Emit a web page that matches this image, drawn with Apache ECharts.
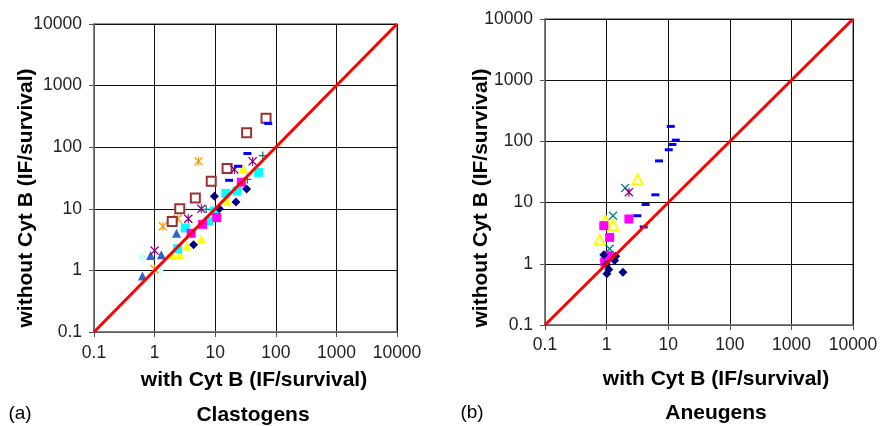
<!DOCTYPE html>
<html>
<head>
<meta charset="utf-8">
<script src="https://cdn.jsdelivr.net/npm/echarts@6/dist/echarts.min.js"></script>
<style>
  html, body { margin: 0; padding: 0; background: #fff; }
  #chart { width: 886px; height: 426px; }
</style>
</head>
<body>
<div id="chart"></div>
<script>
// (a) Clastogens: [with Cyt B, without Cyt B]
var clastNavy = [[33, 21], [22, 12.9], [11.7, 10], [4.4, 2.6], [9.7, 16]];
var clastMagenta = [[27, 27], [10.6, 7.2], [6.2, 5.6], [4.0, 4.0]];
var clastYellow = [[29, 45], [16, 13.3], [5.9, 3.2], [3.4, 2.5], [2.6, 1.8], [2.0, 1.75]];
var clastCyan = [[52, 39], [23, 19.4], [15, 17.8], [9.7, 9.2], [7.8, 6.3], [3.2, 4.9], [2.4, 2.25]];
var clastPurple = [[41.5, 59], [20.7, 43.6], [5.9, 10], [3.6, 6.9], [1.0, 2.1]];
var clastBrown = [[69, 295], [33, 172], [15.7, 45], [8.6, 28], [4.7, 15], [2.6, 10], [1.95, 6.2]];
var clastTeal = [[61, 73], [34, 30], [7.1, 9.8]];
var clastBlue = [[75, 243], [34, 79], [24, 49], [17, 29]];
var clastLight = [[0.63, 1.6], [1.2, 1.0]];
var clastOrange = [[5.3, 59], [2.4, 6.9], [1.37, 5.2], [1.0, 1.04]];
var clastSteel = [[2.3, 4.0], [0.86, 1.75], [0.63, 0.81], [1.29, 1.8]];

// (b) Aneugens
var aneuBlue = [[11, 176], [13.3, 105], [11.7, 89], [10.2, 73], [7.1, 48], [6.2, 13.4], [4.3, 9.3], [3.15, 6.1], [4.0, 4.0]];
var aneuYellow = [[3.2, 24], [0.77, 2.46], [0.96, 5.1], [1.27, 4.3]];
var aneuTeal = [[2.0, 17.4], [1.27, 6.1], [1.12, 1.76]];
var aneuPurple = [[2.3, 14.8]];
var aneuMagenta = [[2.3, 5.4], [1.12, 2.7], [0.9, 4.2], [1.12, 1.36], [0.93, 1.07]];
var aneuNavy = [[0.9, 1.4], [1.4, 1.33], [1.35, 1.13], [1.09, 0.81], [1.01, 0.69], [1.84, 0.73], [1.0, 0.97]];

var diagonal = [[0.1, 0.1], [10000, 10000]];

var xShape = 'path://M0,1L1,0L5,4L9,0L10,1L6,5L10,9L9,10L5,6L1,10L0,9L4,5Z';
var starShape = 'path://M0,1L1,0L5,4L9,0L10,1L6,5L10,9L9,10L5,6L1,10L0,9L4,5Z M4.4,0L5.6,0L5.6,10L4.4,10Z';
var plusShape = 'path://M4.2,0h1.6v4.2h4.2v1.6h-4.2v4.2h-1.6v-4.2h-4.2v-1.6h4.2Z';

var font = 'Liberation Sans, Arial, Helvetica, sans-serif';
var xTitle = 'with Cyt B (IF/survival)';
var yTitle = 'without Cyt B (IF/survival)';

function scatter(idx, data, symbol, color, size) {
  return {
    type: 'scatter', xAxisIndex: idx, yAxisIndex: idx,
    data: data, symbol: symbol, symbolSize: size || 8,
    itemStyle: { color: color, opacity: 1 },
    z: 2
  };
}

function axis(idx, margin) {
  return {
    type: 'log', logBase: 10, min: 0.1, max: 10000, gridIndex: idx,
    axisLine: { show: true, lineStyle: { color: '#777', width: 1.5 } },
    axisTick: { show: true, length: 5, lineStyle: { color: '#555' } },
    axisLabel: {
      fontFamily: font, fontSize: 17.5, color: '#222', margin: margin,
      formatter: function (v) { return String(v); }
    },
    splitLine: { show: true, lineStyle: { color: '#111', width: 1 } },
    minorTick: { show: false }
  };
}

function label(text, x, y, size, bold, rotate) {
  return {
    type: 'text', x: x, y: y, rotation: rotate ? Math.PI / 2 : 0,
    style: {
      text: text, font: (bold ? 'bold ' : '') + size + 'px ' + font,
      fill: '#000', align: 'center', verticalAlign: 'middle'
    }
  };
}

var myChart = echarts.init(document.getElementById('chart'));
var option = {
  animation: false,
  backgroundColor: '#fff',
  grid: [
    { left: 94, top: 24, width: 303, height: 308, show: true, borderColor: '#777', borderWidth: 1.5 },
    { left: 545, top: 19, width: 308, height: 306, show: true, borderColor: '#777', borderWidth: 1.5 }
  ],
  xAxis: [axis(0, 12), axis(1, 11)],
  yAxis: [axis(0, 12), axis(1, 12)],
  graphic: [
    label(xTitle, 254, 380, 21, true),
    label(xTitle, 716, 379, 21, true),
    label(yTitle, 26, 198, 21, true, true),
    label(yTitle, 481, 198, 21, true, true),
    label('(a)', 20, 414, 19, false),
    label('(b)', 472, 413, 19, false),
    label('Clastogens', 253, 415, 21, true),
    label('Aneugens', 716, 413, 21, true)
  ],
  series: [
    scatter(0, clastLight, 'circle', '#CCFFFF', 8),
    scatter(0, clastSteel, 'triangle', '#2E64C8', 9),
    scatter(0, clastOrange, starShape, '#FF9900', 9),
    scatter(0, clastBrown, 'emptyRect', '#993333', 9),
    scatter(0, clastPurple, starShape, '#800080', 9),
    scatter(0, clastYellow, 'triangle', '#FFFF00', 9),
    scatter(0, clastCyan, 'rect', '#00FFFF', 9),
    scatter(0, clastMagenta, 'rect', '#FF00FF', 9),
    scatter(0, clastNavy, 'diamond', '#000080', 9),
    scatter(0, clastTeal, plusShape, '#008080', 8),
    scatter(0, clastBlue, 'rect', '#0000FF', [8, 3]),
    scatter(1, aneuBlue, 'rect', '#0000FF', [8, 3]),
    scatter(1, aneuYellow, 'emptyTriangle', '#FFFF00', 10),
    scatter(1, aneuTeal, xShape, '#008080', 9),
    scatter(1, aneuPurple, starShape, '#800080', 9),
    scatter(1, aneuMagenta, 'rect', '#FF00FF', 9),
    scatter(1, aneuNavy, 'diamond', '#000080', 9),
    {
      type: 'line', xAxisIndex: 0, yAxisIndex: 0, data: diagonal,
      showSymbol: false, symbol: 'none', z: 5,
      lineStyle: { color: '#FF0000', width: 3 }
    },
    {
      type: 'line', xAxisIndex: 1, yAxisIndex: 1, data: diagonal,
      showSymbol: false, symbol: 'none', z: 5,
      lineStyle: { color: '#FF0000', width: 3 }
    }
  ]
};

myChart.setOption(option);
window.addEventListener('resize', function () {
  myChart.resize();
});
</script>
</body>
</html>
